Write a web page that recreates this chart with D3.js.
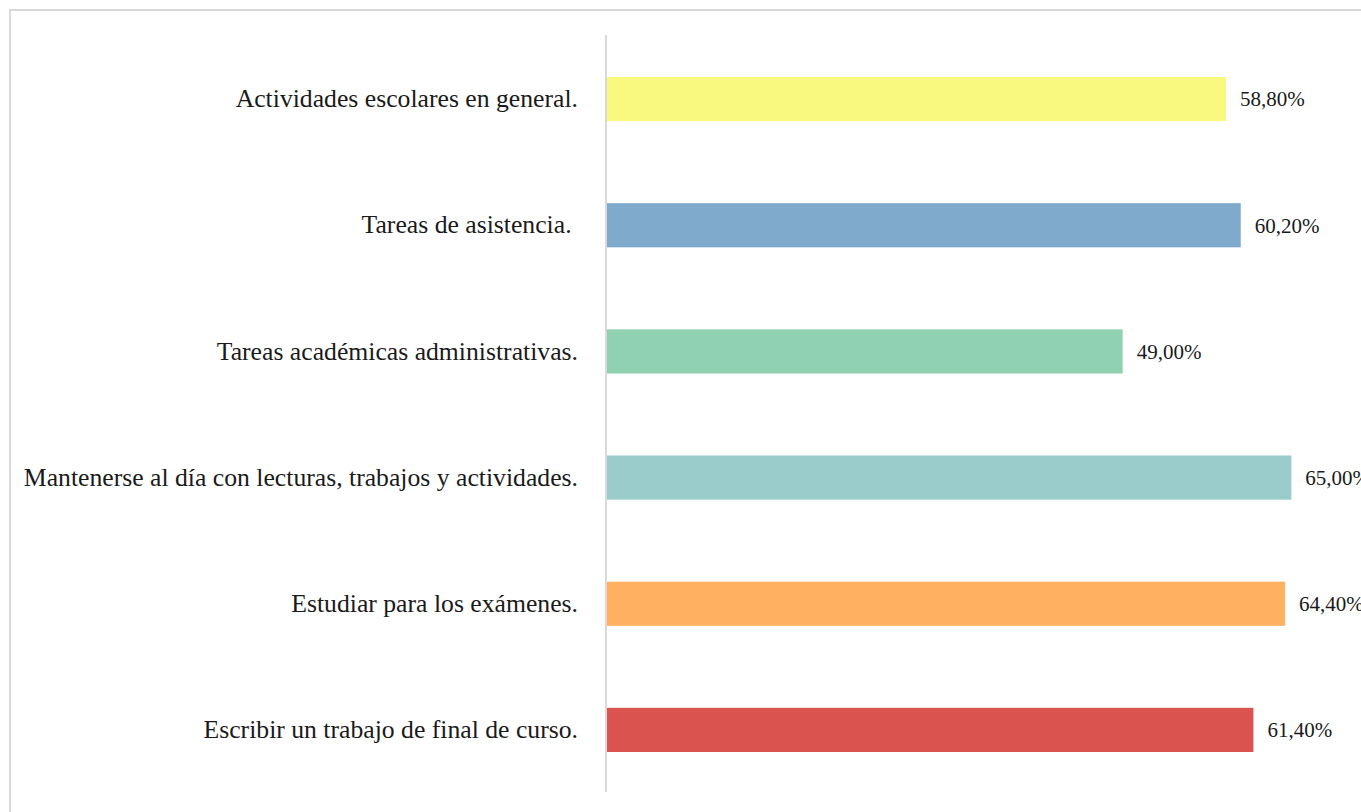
<!DOCTYPE html>
<html>
<head>
<meta charset="utf-8">
<script src="https://cdn.jsdelivr.net/npm/d3@7"></script>
<style>
  body { margin: 0; background: #fff; }
  svg { display: block; }
</style>
</head>
<body>
<script>
// categories top to bottom
var categories = [
  'Actividades escolares en general.',
  'Tareas de asistencia. ',
  'Tareas académicas administrativas.',
  'Mantenerse al día con lecturas, trabajos y actividades.',
  'Estudiar para los exámenes.',
  'Escribir un trabajo de final de curso.'
];
var values = [58.8, 60.2, 49.0, 65.0, 64.4, 61.4];
var valueLabels = ['58,80%', '60,20%', '49,00%', '65,00%', '64,40%', '61,40%'];
var colors = ['#f9f97f', '#7faacc', '#8fd1b1', '#9acccb', '#ffb061', '#da534f'];

var width = 1361;
var height = 812;
var font = 'Liberation Serif, Times New Roman, serif';

var svg = d3.select('body').append('svg')
  .attr('width', width)
  .attr('height', height);

// outer frame, only top and left edges show
svg.append('rect')
  .attr('x', 10).attr('y', 10)
  .attr('width', width + 20).attr('height', height + 20)
  .attr('fill', 'none')
  .attr('stroke', '#d9d9d9')
  .attr('stroke-width', 2);

var x0 = 606;
var x = d3.scaleLinear().domain([0, 100]).range([x0, x0 + 1054.4]);
var y = d3.scaleBand().domain(categories).range([36, 793]).paddingInner(0.65).paddingOuter(0.325);

var rows = svg.selectAll('g.row')
  .data(categories)
  .enter().append('g')
  .attr('class', 'row');

rows.append('rect')
  .attr('x', x(0) + 1)
  .attr('y', function(d) { return y(d); })
  .attr('width', function(d, i) { return x(values[i]) - x(0) - 1; })
  .attr('height', y.bandwidth())
  .attr('fill', function(d, i) { return colors[i]; });

rows.append('text')
  .attr('x', function(d, i) { return x(values[i]) + 14; })
  .attr('y', function(d) { return y(d) + y.bandwidth() / 2; })
  .attr('dy', '0.35em')
  .attr('font-family', font)
  .attr('font-size', 21)
  .attr('fill', '#1a1a1a')
  .text(function(d, i) { return valueLabels[i]; });

var yAxis = d3.axisLeft(y).tickSize(0).tickPadding(28);
var ag = svg.append('g')
  .attr('transform', 'translate(' + x0 + ',0)')
  .call(yAxis);
ag.select('.domain')
  .attr('d', 'M0,35V792')
  .attr('stroke', '#d9d9d9')
  .attr('stroke-width', 2);
ag.selectAll('text')
  .attr('font-family', font)
  .attr('font-size', 25.7)
  .attr('fill', '#1a1a1a')
  .style('white-space', 'pre');
</script>
</body>
</html>
